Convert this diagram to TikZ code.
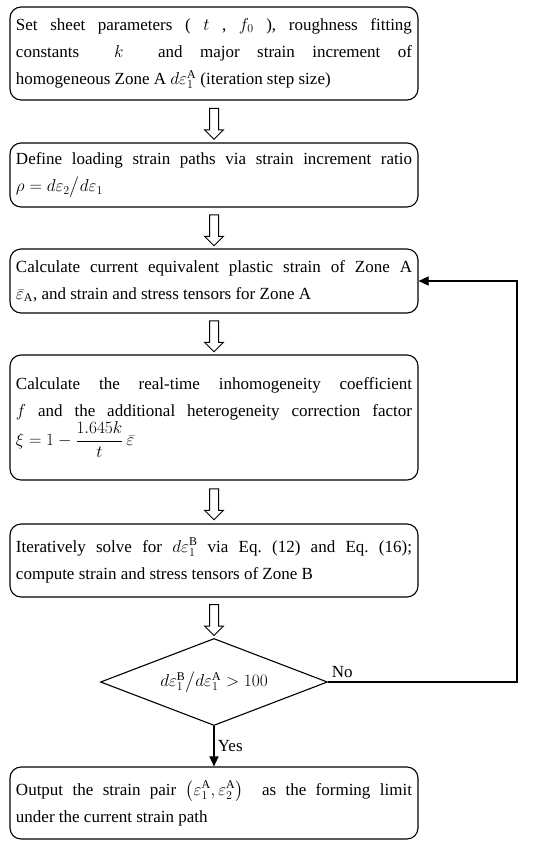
\documentclass[tikz,border=0pt]{standalone}
\usepackage{amsmath}
\usepackage{fontspec}
\setmainfont{Liberation Serif}
\usetikzlibrary{calc, arrows.meta, shapes.geometric, shapes.arrows}

\begin{document}
\begin{tikzpicture}[x=1pt, y=-1pt, line width=1.1pt,
    box/.style={draw, rounded corners=11pt, text width=396pt, inner xsep=6pt, inner ysep=0pt, align=justify, font=\fontsize{17}{27}\selectfont\frenchspacing},
    hollow/.style={draw, single arrow, rotate=-90, minimum height=31pt, inner sep=4pt, single arrow head extend=5pt, line width=1pt},
    tip/.style={-{Triangle[width=9pt,length=10pt]}}]
    \useasboundingbox (0,0) rectangle (550,849);
    \node[box, minimum height=93pt] (set) at (214,53.5) {Set sheet parameters ( $t$ , $f_0$ ), roughness fitting \linebreak constants\ \ $k$\quad\ and major strain increment of \linebreak homogeneous Zone A $d\varepsilon_1^{\mathrm{A}}$ (iteration step size)};
    \node[box, minimum height=64pt] (path) at (214,175) {Define loading strain paths via strain increment ratio \linebreak $\rho = d\varepsilon_2\big/d\varepsilon_1$};
    \node[box, minimum height=64pt] (zoneA) at (214,281) {Calculate current equivalent plastic strain of Zone A \linebreak $\bar{\varepsilon}_{\mathrm{A}}$, and strain and stress tensors for Zone A};
    \node[box, minimum height=125pt] (coef) at (214,417.5) {Calculate the real-time inhomogeneity coefficient \linebreak $f$ and the additional heterogeneity correction factor \linebreak $\xi = 1-\dfrac{1.645k}{t}\,\bar{\varepsilon}$};
    \node[box, minimum height=73pt] (zoneB) at (214,560.5) {Iteratively solve for\ $d\varepsilon_1^{\mathrm{B}}$\ via Eq. (12) and Eq. (16); \linebreak compute strain and stress tensors of Zone B};
    \node[draw, diamond, minimum width=227pt, minimum height=87pt, inner sep=0pt, aspect=2.6, font=\fontsize{17}{20}\selectfont] (check) at (214,682) {$d\varepsilon_1^{\mathrm{B}}\big/d\varepsilon_1^{\mathrm{A}} > 100$};
    \node[box, minimum height=72pt] (out) at (214,803) {Output the strain pair $\left(\varepsilon_1^{\mathrm{A}},\varepsilon_2^{\mathrm{A}}\right)$\ \ as the forming limit \linebreak under the current strain path};
    % hollow arrows between the steps
    \path (set.south) -- (path.north) node[midway, hollow] (a1) {};
    \path (path.south) -- (zoneA.north) node[midway, hollow] (a2) {};
    \path (zoneA.south) -- (coef.north) node[midway, hollow] (a3) {};
    \path (coef.south) -- (zoneB.north) node[midway, hollow] (a4) {};
    \path (zoneB.south) -- (check.north) node[midway, hollow] (a5) {};
    % decision
    \coordinate (back) at (517,682);
    \draw[tip] (check.east) node[above right, font=\fontsize{17}{20}\selectfont]{No} -- (back) |- (zoneA.east);
    \draw[tip] (check.south) -- (out.north) node[midway, right, font=\fontsize{17}{20}\selectfont]{Yes};
\end{tikzpicture}
\end{document}
